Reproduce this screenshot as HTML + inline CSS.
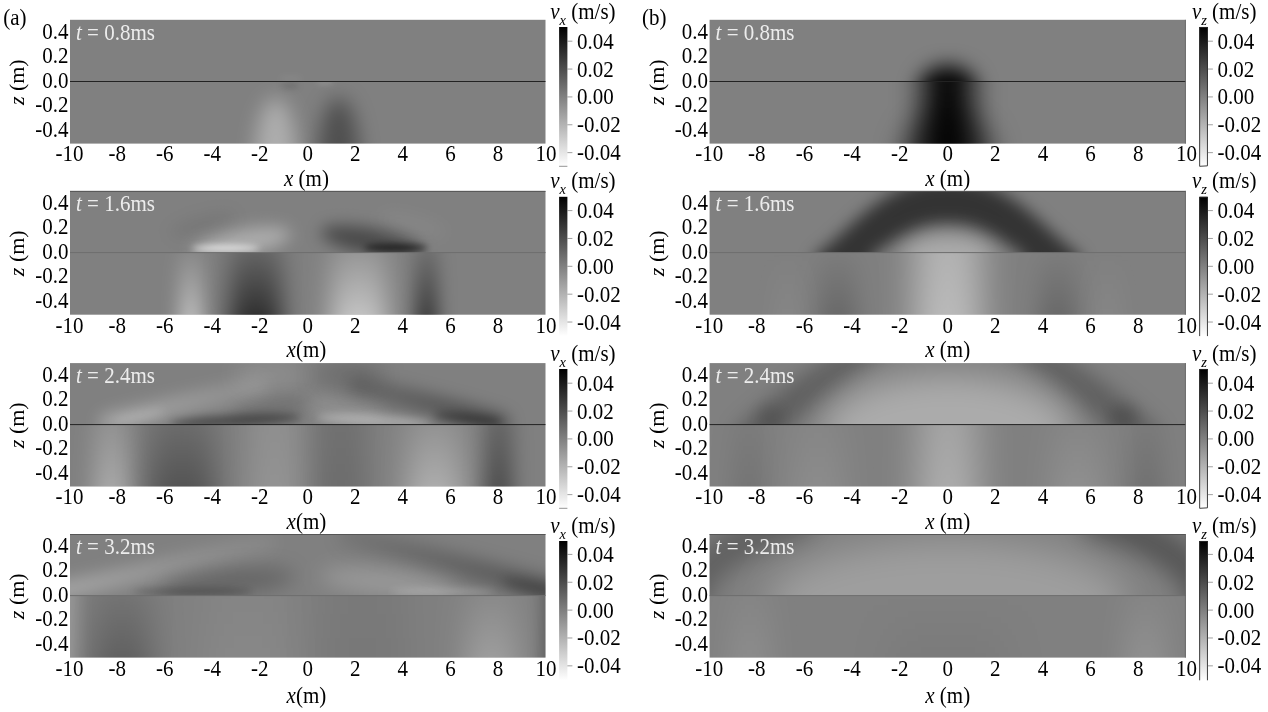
<!DOCTYPE html>
<html lang="en"><head><meta charset="utf-8"><title>Wave field snapshots</title>
<style>html,body{margin:0;padding:0;background:#fff}svg{display:block;will-change:transform}text{font-family:"Liberation Serif","Times New Roman",serif;font-size:21px;fill:#000}.i{font-style:italic}.w{fill:#ececec}.sub{font-size:14.5px;font-style:italic}</style>
</head><body>
<svg width="1268" height="712" viewBox="0 0 1268 712">
<defs>
<linearGradient id="cb" x1="0" y1="0" x2="0" y2="1"><stop offset="0" stop-color="#000"/><stop offset="0.5" stop-color="#808080"/><stop offset="1" stop-color="#fff"/></linearGradient>
<filter id="f10_1" filterUnits="userSpaceOnUse" x="0" y="0" width="1268" height="712"><feGaussianBlur stdDeviation="10 1"/></filter>
<filter id="f10_10" filterUnits="userSpaceOnUse" x="0" y="0" width="1268" height="712"><feGaussianBlur stdDeviation="10 10"/></filter>
<filter id="f11_1" filterUnits="userSpaceOnUse" x="0" y="0" width="1268" height="712"><feGaussianBlur stdDeviation="11 1"/></filter>
<filter id="f11_11" filterUnits="userSpaceOnUse" x="0" y="0" width="1268" height="712"><feGaussianBlur stdDeviation="11 11"/></filter>
<filter id="f12_1" filterUnits="userSpaceOnUse" x="0" y="0" width="1268" height="712"><feGaussianBlur stdDeviation="12 1"/></filter>
<filter id="f12_12" filterUnits="userSpaceOnUse" x="0" y="0" width="1268" height="712"><feGaussianBlur stdDeviation="12 12"/></filter>
<filter id="f13_1" filterUnits="userSpaceOnUse" x="0" y="0" width="1268" height="712"><feGaussianBlur stdDeviation="13 1"/></filter>
<filter id="f14_1" filterUnits="userSpaceOnUse" x="0" y="0" width="1268" height="712"><feGaussianBlur stdDeviation="14 1"/></filter>
<filter id="f14_14" filterUnits="userSpaceOnUse" x="0" y="0" width="1268" height="712"><feGaussianBlur stdDeviation="14 14"/></filter>
<filter id="f15_1" filterUnits="userSpaceOnUse" x="0" y="0" width="1268" height="712"><feGaussianBlur stdDeviation="15 1"/></filter>
<filter id="f16_1" filterUnits="userSpaceOnUse" x="0" y="0" width="1268" height="712"><feGaussianBlur stdDeviation="16 1"/></filter>
<filter id="f16_16" filterUnits="userSpaceOnUse" x="0" y="0" width="1268" height="712"><feGaussianBlur stdDeviation="16 16"/></filter>
<filter id="f17_1" filterUnits="userSpaceOnUse" x="0" y="0" width="1268" height="712"><feGaussianBlur stdDeviation="17 1"/></filter>
<filter id="f18_1" filterUnits="userSpaceOnUse" x="0" y="0" width="1268" height="712"><feGaussianBlur stdDeviation="18 1"/></filter>
<filter id="f18_18" filterUnits="userSpaceOnUse" x="0" y="0" width="1268" height="712"><feGaussianBlur stdDeviation="18 18"/></filter>
<filter id="f22_1" filterUnits="userSpaceOnUse" x="0" y="0" width="1268" height="712"><feGaussianBlur stdDeviation="22 1"/></filter>
<filter id="f2p5_2p5" filterUnits="userSpaceOnUse" x="0" y="0" width="1268" height="712"><feGaussianBlur stdDeviation="2.5 2.5"/></filter>
<filter id="f3_3" filterUnits="userSpaceOnUse" x="0" y="0" width="1268" height="712"><feGaussianBlur stdDeviation="3 3"/></filter>
<filter id="f3p5_3p5" filterUnits="userSpaceOnUse" x="0" y="0" width="1268" height="712"><feGaussianBlur stdDeviation="3.5 3.5"/></filter>
<filter id="f4_4" filterUnits="userSpaceOnUse" x="0" y="0" width="1268" height="712"><feGaussianBlur stdDeviation="4 4"/></filter>
<filter id="f4p5_4p5" filterUnits="userSpaceOnUse" x="0" y="0" width="1268" height="712"><feGaussianBlur stdDeviation="4.5 4.5"/></filter>
<filter id="f5_5" filterUnits="userSpaceOnUse" x="0" y="0" width="1268" height="712"><feGaussianBlur stdDeviation="5 5"/></filter>
<filter id="f6_6" filterUnits="userSpaceOnUse" x="0" y="0" width="1268" height="712"><feGaussianBlur stdDeviation="6 6"/></filter>
<filter id="f7_1" filterUnits="userSpaceOnUse" x="0" y="0" width="1268" height="712"><feGaussianBlur stdDeviation="7 1"/></filter>
<filter id="f7_7" filterUnits="userSpaceOnUse" x="0" y="0" width="1268" height="712"><feGaussianBlur stdDeviation="7 7"/></filter>
<filter id="f8_1" filterUnits="userSpaceOnUse" x="0" y="0" width="1268" height="712"><feGaussianBlur stdDeviation="8 1"/></filter>
<filter id="f8_8" filterUnits="userSpaceOnUse" x="0" y="0" width="1268" height="712"><feGaussianBlur stdDeviation="8 8"/></filter>
<filter id="f9_1" filterUnits="userSpaceOnUse" x="0" y="0" width="1268" height="712"><feGaussianBlur stdDeviation="9 1"/></filter>
<filter id="f9_9" filterUnits="userSpaceOnUse" x="0" y="0" width="1268" height="712"><feGaussianBlur stdDeviation="9 9"/></filter>
<linearGradient id="g1" gradientUnits="userSpaceOnUse" x1="0" y1="252.8" x2="0" y2="314.7"><stop offset="0" stop-color="#fff" stop-opacity="0.08"/><stop offset="1" stop-color="#fff" stop-opacity="0.46"/></linearGradient>
<linearGradient id="g2" gradientUnits="userSpaceOnUse" x1="0" y1="252.8" x2="0" y2="314.7"><stop offset="0" stop-color="#000" stop-opacity="0.22"/><stop offset="1" stop-color="#000" stop-opacity="0.62"/></linearGradient>
<linearGradient id="g3" gradientUnits="userSpaceOnUse" x1="0" y1="252.8" x2="0" y2="314.7"><stop offset="0" stop-color="#fff" stop-opacity="0.18"/><stop offset="1" stop-color="#fff" stop-opacity="0.52"/></linearGradient>
<linearGradient id="g4" gradientUnits="userSpaceOnUse" x1="0" y1="252.8" x2="0" y2="314.7"><stop offset="0" stop-color="#000" stop-opacity="0.16"/><stop offset="1" stop-color="#000" stop-opacity="0.55"/></linearGradient>
<linearGradient id="g5" gradientUnits="userSpaceOnUse" x1="117.75" y1="0" x2="257.75" y2="0"><stop offset="0" stop-color="#fff" stop-opacity="0.3"/><stop offset="1" stop-color="#fff" stop-opacity="0.12"/></linearGradient>
<linearGradient id="g6" gradientUnits="userSpaceOnUse" x1="492.75" y1="0" x2="357.75" y2="0"><stop offset="0" stop-color="#000" stop-opacity="0.4"/><stop offset="1" stop-color="#000" stop-opacity="0.18"/></linearGradient>
<linearGradient id="g7" gradientUnits="userSpaceOnUse" x1="0" y1="424.8" x2="0" y2="486.5"><stop offset="0" stop-color="#fff" stop-opacity="0.15"/><stop offset="1" stop-color="#fff" stop-opacity="0.32"/></linearGradient>
<linearGradient id="g8" gradientUnits="userSpaceOnUse" x1="0" y1="424.8" x2="0" y2="486.5"><stop offset="0" stop-color="#000" stop-opacity="0.16"/><stop offset="1" stop-color="#000" stop-opacity="0.34"/></linearGradient>
<linearGradient id="g9" gradientUnits="userSpaceOnUse" x1="0" y1="424.8" x2="0" y2="486.5"><stop offset="0" stop-color="#fff" stop-opacity="0.12"/><stop offset="1" stop-color="#fff" stop-opacity="0.15"/></linearGradient>
<linearGradient id="g10" gradientUnits="userSpaceOnUse" x1="0" y1="424.8" x2="0" y2="486.5"><stop offset="0" stop-color="#000" stop-opacity="0.12"/><stop offset="1" stop-color="#000" stop-opacity="0.15"/></linearGradient>
<linearGradient id="g11" gradientUnits="userSpaceOnUse" x1="0" y1="424.8" x2="0" y2="486.5"><stop offset="0" stop-color="#fff" stop-opacity="0.15"/><stop offset="1" stop-color="#fff" stop-opacity="0.36"/></linearGradient>
<linearGradient id="g12" gradientUnits="userSpaceOnUse" x1="0" y1="424.8" x2="0" y2="486.5"><stop offset="0" stop-color="#000" stop-opacity="0.22"/><stop offset="1" stop-color="#000" stop-opacity="0.4"/></linearGradient>
<linearGradient id="g13" gradientUnits="userSpaceOnUse" x1="67.75" y1="0" x2="267.75" y2="0"><stop offset="0" stop-color="#fff" stop-opacity="0.3"/><stop offset="1" stop-color="#fff" stop-opacity="0.06"/></linearGradient>
<linearGradient id="g14" gradientUnits="userSpaceOnUse" x1="547.75" y1="0" x2="347.75" y2="0"><stop offset="0" stop-color="#000" stop-opacity="0.38"/><stop offset="1" stop-color="#000" stop-opacity="0.1"/></linearGradient>
<linearGradient id="g15" gradientUnits="userSpaceOnUse" x1="0" y1="595.8" x2="0" y2="657.6"><stop offset="0" stop-color="#fff" stop-opacity="0.2"/><stop offset="1" stop-color="#fff" stop-opacity="0.2"/></linearGradient>
<linearGradient id="g16" gradientUnits="userSpaceOnUse" x1="0" y1="595.8" x2="0" y2="657.6"><stop offset="0" stop-color="#000" stop-opacity="0.1"/><stop offset="1" stop-color="#000" stop-opacity="0.25"/></linearGradient>
<linearGradient id="g17" gradientUnits="userSpaceOnUse" x1="0" y1="595.8" x2="0" y2="657.6"><stop offset="0" stop-color="#fff" stop-opacity="0.04"/><stop offset="1" stop-color="#fff" stop-opacity="0.06"/></linearGradient>
<linearGradient id="g18" gradientUnits="userSpaceOnUse" x1="0" y1="595.8" x2="0" y2="657.6"><stop offset="0" stop-color="#000" stop-opacity="0.05"/><stop offset="1" stop-color="#000" stop-opacity="0.06"/></linearGradient>
<linearGradient id="g19" gradientUnits="userSpaceOnUse" x1="0" y1="595.8" x2="0" y2="657.6"><stop offset="0" stop-color="#fff" stop-opacity="0.08"/><stop offset="1" stop-color="#fff" stop-opacity="0.24"/></linearGradient>
<linearGradient id="g20" gradientUnits="userSpaceOnUse" x1="0" y1="595.8" x2="0" y2="657.6"><stop offset="0" stop-color="#000" stop-opacity="0.24"/><stop offset="1" stop-color="#000" stop-opacity="0.28"/></linearGradient>
<linearGradient id="g21" gradientUnits="userSpaceOnUse" x1="0" y1="81.7" x2="0" y2="143.6"><stop offset="0" stop-color="#000" stop-opacity="0.97"/><stop offset="1" stop-color="#000" stop-opacity="0.99"/></linearGradient>
<linearGradient id="g22" gradientUnits="userSpaceOnUse" x1="0" y1="252.8" x2="0" y2="314.7"><stop offset="0" stop-color="#fff" stop-opacity="0.4"/><stop offset="1" stop-color="#fff" stop-opacity="0.46"/></linearGradient>
<linearGradient id="g23" gradientUnits="userSpaceOnUse" x1="0" y1="252.8" x2="0" y2="314.7"><stop offset="0" stop-color="#000" stop-opacity="0.03"/><stop offset="1" stop-color="#000" stop-opacity="0.2"/></linearGradient>
<linearGradient id="g24" gradientUnits="userSpaceOnUse" x1="0" y1="252.8" x2="0" y2="314.7"><stop offset="0" stop-color="#000" stop-opacity="0.03"/><stop offset="1" stop-color="#000" stop-opacity="0.2"/></linearGradient>
<linearGradient id="g25" gradientUnits="userSpaceOnUse" x1="0" y1="252.8" x2="0" y2="314.7"><stop offset="0" stop-color="#fff" stop-opacity="0"/><stop offset="1" stop-color="#fff" stop-opacity="0.05"/></linearGradient>
<linearGradient id="g26" gradientUnits="userSpaceOnUse" x1="0" y1="252.8" x2="0" y2="314.7"><stop offset="0" stop-color="#fff" stop-opacity="0"/><stop offset="1" stop-color="#fff" stop-opacity="0.05"/></linearGradient>
<linearGradient id="g27" gradientUnits="userSpaceOnUse" x1="0" y1="424.8" x2="0" y2="486.5"><stop offset="0" stop-color="#fff" stop-opacity="0.3"/><stop offset="1" stop-color="#fff" stop-opacity="0.36"/></linearGradient>
<linearGradient id="g28" gradientUnits="userSpaceOnUse" x1="0" y1="424.8" x2="0" y2="486.5"><stop offset="0" stop-color="#000" stop-opacity="0.04"/><stop offset="1" stop-color="#000" stop-opacity="0.1"/></linearGradient>
<linearGradient id="g29" gradientUnits="userSpaceOnUse" x1="0" y1="424.8" x2="0" y2="486.5"><stop offset="0" stop-color="#000" stop-opacity="0.05"/><stop offset="1" stop-color="#000" stop-opacity="0.13"/></linearGradient>
<linearGradient id="g30" gradientUnits="userSpaceOnUse" x1="0" y1="424.8" x2="0" y2="486.5"><stop offset="0" stop-color="#fff" stop-opacity="0.05"/><stop offset="1" stop-color="#fff" stop-opacity="0.1"/></linearGradient>
<linearGradient id="g31" gradientUnits="userSpaceOnUse" x1="0" y1="424.8" x2="0" y2="486.5"><stop offset="0" stop-color="#fff" stop-opacity="0.05"/><stop offset="1" stop-color="#fff" stop-opacity="0.13"/></linearGradient>
<linearGradient id="g32" gradientUnits="userSpaceOnUse" x1="0" y1="595.8" x2="0" y2="657.6"><stop offset="0" stop-color="#fff" stop-opacity="0.04"/><stop offset="1" stop-color="#fff" stop-opacity="0.1"/></linearGradient>
<linearGradient id="g33" gradientUnits="userSpaceOnUse" x1="0" y1="595.8" x2="0" y2="657.6"><stop offset="0" stop-color="#fff" stop-opacity="0.04"/><stop offset="1" stop-color="#fff" stop-opacity="0.13"/></linearGradient>
<linearGradient id="g34" gradientUnits="userSpaceOnUse" x1="0" y1="595.8" x2="0" y2="657.6"><stop offset="0" stop-color="#000" stop-opacity="0"/><stop offset="1" stop-color="#000" stop-opacity="0.04"/></linearGradient>
<clipPath id="c00a"><rect x="70" y="19.8" width="475.5" height="123.8"/></clipPath>
<clipPath id="c00u"><rect x="70" y="19.8" width="475.5" height="61.9"/></clipPath>
<clipPath id="c00l"><rect x="70" y="81.7" width="475.5" height="61.9"/></clipPath>
<clipPath id="c01a"><rect x="70" y="190.9" width="475.5" height="123.8"/></clipPath>
<clipPath id="c01u"><rect x="70" y="190.9" width="475.5" height="61.9"/></clipPath>
<clipPath id="c01l"><rect x="70" y="252.8" width="475.5" height="61.9"/></clipPath>
<clipPath id="c02a"><rect x="70" y="363.1" width="475.5" height="123.4"/></clipPath>
<clipPath id="c02u"><rect x="70" y="363.1" width="475.5" height="61.7"/></clipPath>
<clipPath id="c02l"><rect x="70" y="424.8" width="475.5" height="61.7"/></clipPath>
<clipPath id="c03a"><rect x="70" y="534" width="475.5" height="123.6"/></clipPath>
<clipPath id="c03u"><rect x="70" y="534" width="475.5" height="61.8"/></clipPath>
<clipPath id="c03l"><rect x="70" y="595.8" width="475.5" height="61.8"/></clipPath>
<clipPath id="c10a"><rect x="709.6" y="19.8" width="476.2" height="123.8"/></clipPath>
<clipPath id="c10u"><rect x="709.6" y="19.8" width="476.2" height="61.9"/></clipPath>
<clipPath id="c10l"><rect x="709.6" y="81.7" width="476.2" height="61.9"/></clipPath>
<clipPath id="c11a"><rect x="709.6" y="190.9" width="476.2" height="123.8"/></clipPath>
<clipPath id="c11u"><rect x="709.6" y="190.9" width="476.2" height="61.9"/></clipPath>
<clipPath id="c11l"><rect x="709.6" y="252.8" width="476.2" height="61.9"/></clipPath>
<clipPath id="c12a"><rect x="709.6" y="363.1" width="476.2" height="123.4"/></clipPath>
<clipPath id="c12u"><rect x="709.6" y="363.1" width="476.2" height="61.7"/></clipPath>
<clipPath id="c12l"><rect x="709.6" y="424.8" width="476.2" height="61.7"/></clipPath>
<clipPath id="c13a"><rect x="709.6" y="534" width="476.2" height="123.6"/></clipPath>
<clipPath id="c13u"><rect x="709.6" y="534" width="476.2" height="61.8"/></clipPath>
<clipPath id="c13l"><rect x="709.6" y="595.8" width="476.2" height="61.8"/></clipPath>
</defs>
<rect width="1268" height="712" fill="#fff"/>
<!-- panel a row 1 -->
<rect x="70" y="19.8" width="475.5" height="123.8" fill="#808080"/>
<g clip-path="url(#c00l)">
<ellipse cx="275.75" cy="161.7" rx="21" ry="64" fill="#fff" fill-opacity="0.36" filter="url(#f10_10)"/>
<ellipse cx="338.75" cy="161.7" rx="21" ry="64" fill="#000" fill-opacity="0.38" filter="url(#f10_10)"/>
<ellipse cx="289.75" cy="85.7" rx="9" ry="3" fill="#000" fill-opacity="0.14" filter="url(#f3_3)"/>
<ellipse cx="324.75" cy="82.7" rx="9" ry="2" fill="#fff" fill-opacity="0.14" filter="url(#f2p5_2p5)"/>
</g>
<g clip-path="url(#c00u)">
<ellipse cx="290.75" cy="78.7" rx="12" ry="3" fill="#fff" fill-opacity="0.06" filter="url(#f3_3)"/>
</g>
<path d="M70 81.5H545.5" stroke="#222" stroke-width="1" fill="none"/>
<text transform="translate(76,40) scale(1,1.065)" class="w" xml:space="preserve"><tspan class="i">t</tspan> = 0.8ms</text>
<text transform="translate(68.5,38.7) scale(1,1.065)" text-anchor="end" xml:space="preserve">0.4</text>
<text transform="translate(68.5,63.2) scale(1,1.065)" text-anchor="end" xml:space="preserve">0.2</text>
<text transform="translate(68.5,87.7) scale(1,1.065)" text-anchor="end" xml:space="preserve">0.0</text>
<text transform="translate(68.5,112.2) scale(1,1.065)" text-anchor="end" xml:space="preserve">-0.2</text>
<text transform="translate(68.5,136.7) scale(1,1.065)" text-anchor="end" xml:space="preserve">-0.4</text>
<text transform="translate(69.6,161) scale(1,1.065)" text-anchor="middle" xml:space="preserve">-10</text>
<text transform="translate(117.15,161) scale(1,1.065)" text-anchor="middle" xml:space="preserve">-8</text>
<text transform="translate(164.7,161) scale(1,1.065)" text-anchor="middle" xml:space="preserve">-6</text>
<text transform="translate(212.25,161) scale(1,1.065)" text-anchor="middle" xml:space="preserve">-4</text>
<text transform="translate(259.8,161) scale(1,1.065)" text-anchor="middle" xml:space="preserve">-2</text>
<text transform="translate(307.75,161) scale(1,1.065)" text-anchor="middle" xml:space="preserve">0</text>
<text transform="translate(355.3,161) scale(1,1.065)" text-anchor="middle" xml:space="preserve">2</text>
<text transform="translate(402.85,161) scale(1,1.065)" text-anchor="middle" xml:space="preserve">4</text>
<text transform="translate(450.4,161) scale(1,1.065)" text-anchor="middle" xml:space="preserve">6</text>
<text transform="translate(497.95,161) scale(1,1.065)" text-anchor="middle" xml:space="preserve">8</text>
<text transform="translate(546.1,161) scale(1,1.065)" text-anchor="middle" xml:space="preserve">10</text>
<text transform="translate(306.45,185.5) scale(1,1.065)" text-anchor="middle" xml:space="preserve"><tspan class="i">x</tspan> (m)</text>
<text transform="translate(24,82.2) rotate(-90) scale(1.045,1)" text-anchor="middle" xml:space="preserve"><tspan class="i">z</tspan> (m)</text>
<rect x="559.1" y="27" width="8.3" height="139.3" fill="url(#cb)"/>
<path d="M559.1 166.3H567.4" stroke="#666" stroke-width="0.7" fill="none"/>
<path d="M567.4 41.2h5" stroke="#777" stroke-width="0.7" fill="none"/>
<text transform="translate(577,48.7) scale(1,1.065)" xml:space="preserve">0.04</text>
<path d="M567.4 69.06h5" stroke="#777" stroke-width="0.7" fill="none"/>
<text transform="translate(577,76.56) scale(1,1.065)" xml:space="preserve">0.02</text>
<path d="M567.4 96.92h5" stroke="#777" stroke-width="0.7" fill="none"/>
<text transform="translate(577,104.42) scale(1,1.065)" xml:space="preserve">0.00</text>
<path d="M567.4 124.78h5" stroke="#777" stroke-width="0.7" fill="none"/>
<text transform="translate(577,132.28) scale(1,1.065)" xml:space="preserve">-0.02</text>
<path d="M567.4 152.64h5" stroke="#777" stroke-width="0.7" fill="none"/>
<text transform="translate(577,160.14) scale(1,1.065)" xml:space="preserve">-0.04</text>
<text transform="translate(550.2,18.6) scale(1,1.065)" xml:space="preserve"><tspan class="i">v</tspan><tspan class="sub" dy="6">x</tspan><tspan dy="-6"> (m/s)</tspan></text>
<!-- panel a row 2 -->
<rect x="70" y="190.9" width="475.5" height="123.8" fill="#808080"/>
<g clip-path="url(#c01l)">
<rect x="178.75" y="240.8" width="24" height="87" fill="url(#g1)" filter="url(#f9_1)"/>
<rect x="229.75" y="240.8" width="52" height="87" fill="url(#g2)" filter="url(#f12_1)"/>
<rect x="330.75" y="240.8" width="56" height="87" fill="url(#g3)" filter="url(#f13_1)"/>
<rect x="415.75" y="240.8" width="22" height="87" fill="url(#g4)" filter="url(#f9_1)"/>
</g>
<g clip-path="url(#c01u)">
<ellipse cx="241.75" cy="242.8" rx="50" ry="13" fill="#fff" fill-opacity="0.35" filter="url(#f8_8)" transform="rotate(-11 241.75 242.8)"/>
<ellipse cx="225.75" cy="248.3" rx="34" ry="3" fill="#fff" fill-opacity="0.68" filter="url(#f3_3)"/>
<ellipse cx="371.75" cy="241.8" rx="52" ry="13" fill="#000" fill-opacity="0.43" filter="url(#f8_8)" transform="rotate(11 371.75 241.8)"/>
<ellipse cx="395.75" cy="247.8" rx="32" ry="3.5" fill="#000" fill-opacity="0.6" filter="url(#f3_3)"/>
<ellipse cx="202.75" cy="224.8" rx="35" ry="9" fill="#000" fill-opacity="0.07" filter="url(#f8_8)" transform="rotate(-15 202.75 224.8)"/>
<ellipse cx="412.75" cy="224.8" rx="35" ry="9" fill="#fff" fill-opacity="0.05" filter="url(#f8_8)" transform="rotate(15 412.75 224.8)"/>
</g>
<path d="M70 252.6H545.5" stroke="#6e6e6e" stroke-width="1" fill="none"/>
<rect x="70" y="190.9" width="475.5" height="1" fill="#555"/>
<text transform="translate(76,211.1) scale(1,1.065)" class="w" xml:space="preserve"><tspan class="i">t</tspan> = 1.6ms</text>
<text transform="translate(68.5,209.8) scale(1,1.065)" text-anchor="end" xml:space="preserve">0.4</text>
<text transform="translate(68.5,234.3) scale(1,1.065)" text-anchor="end" xml:space="preserve">0.2</text>
<text transform="translate(68.5,258.8) scale(1,1.065)" text-anchor="end" xml:space="preserve">0.0</text>
<text transform="translate(68.5,283.3) scale(1,1.065)" text-anchor="end" xml:space="preserve">-0.2</text>
<text transform="translate(68.5,307.8) scale(1,1.065)" text-anchor="end" xml:space="preserve">-0.4</text>
<text transform="translate(69.6,332.9) scale(1,1.065)" text-anchor="middle" xml:space="preserve">-10</text>
<text transform="translate(117.15,332.9) scale(1,1.065)" text-anchor="middle" xml:space="preserve">-8</text>
<text transform="translate(164.7,332.9) scale(1,1.065)" text-anchor="middle" xml:space="preserve">-6</text>
<text transform="translate(212.25,332.9) scale(1,1.065)" text-anchor="middle" xml:space="preserve">-4</text>
<text transform="translate(259.8,332.9) scale(1,1.065)" text-anchor="middle" xml:space="preserve">-2</text>
<text transform="translate(307.75,332.9) scale(1,1.065)" text-anchor="middle" xml:space="preserve">0</text>
<text transform="translate(355.3,332.9) scale(1,1.065)" text-anchor="middle" xml:space="preserve">2</text>
<text transform="translate(402.85,332.9) scale(1,1.065)" text-anchor="middle" xml:space="preserve">4</text>
<text transform="translate(450.4,332.9) scale(1,1.065)" text-anchor="middle" xml:space="preserve">6</text>
<text transform="translate(497.95,332.9) scale(1,1.065)" text-anchor="middle" xml:space="preserve">8</text>
<text transform="translate(546.1,332.9) scale(1,1.065)" text-anchor="middle" xml:space="preserve">10</text>
<text transform="translate(306.45,356.9) scale(1,1.065)" text-anchor="middle" xml:space="preserve"><tspan class="i">x</tspan>(m)</text>
<text transform="translate(24,253.3) rotate(-90) scale(1.045,1)" text-anchor="middle" xml:space="preserve"><tspan class="i">z</tspan> (m)</text>
<rect x="559.1" y="196.8" width="8.3" height="139.3" fill="url(#cb)"/>
<path d="M567.4 210.6h5" stroke="#777" stroke-width="0.7" fill="none"/>
<text transform="translate(577,218.1) scale(1,1.065)" xml:space="preserve">0.04</text>
<path d="M567.4 238.46h5" stroke="#777" stroke-width="0.7" fill="none"/>
<text transform="translate(577,245.96) scale(1,1.065)" xml:space="preserve">0.02</text>
<path d="M567.4 266.32h5" stroke="#777" stroke-width="0.7" fill="none"/>
<text transform="translate(577,273.82) scale(1,1.065)" xml:space="preserve">0.00</text>
<path d="M567.4 294.18h5" stroke="#777" stroke-width="0.7" fill="none"/>
<text transform="translate(577,301.68) scale(1,1.065)" xml:space="preserve">-0.02</text>
<path d="M567.4 322.04h5" stroke="#777" stroke-width="0.7" fill="none"/>
<text transform="translate(577,329.54) scale(1,1.065)" xml:space="preserve">-0.04</text>
<text transform="translate(550.2,188) scale(1,1.065)" xml:space="preserve"><tspan class="i">v</tspan><tspan class="sub" dy="6">x</tspan><tspan dy="-6"> (m/s)</tspan></text>
<!-- panel a row 3 -->
<rect x="70" y="363.1" width="475.5" height="123.4" fill="#808080"/>
<g clip-path="url(#c02l)">
<rect x="93.75" y="412.8" width="36" height="87" fill="url(#g7)" filter="url(#f11_1)"/>
<rect x="147.75" y="412.8" width="68" height="87" fill="url(#g8)" filter="url(#f15_1)"/>
<rect x="248.75" y="412.8" width="52" height="87" fill="url(#g9)" filter="url(#f13_1)"/>
<rect x="314.75" y="412.8" width="52" height="87" fill="url(#g10)" filter="url(#f13_1)"/>
<rect x="406.75" y="412.8" width="56" height="87" fill="url(#g11)" filter="url(#f15_1)"/>
<rect x="484.75" y="412.8" width="28" height="87" fill="url(#g12)" filter="url(#f10_1)"/>
</g>
<g clip-path="url(#c02u)">
<path d="M 107.75 422.8 Q 187.75 401.8 257.75 386.8" fill="none" stroke="url(#g5)" stroke-width="18" stroke-linecap="round" filter="url(#f8_8)"/>
<ellipse cx="269.75" cy="374.8" rx="36" ry="16" fill="#fff" fill-opacity="0.1" filter="url(#f11_11)"/>
<ellipse cx="139.75" cy="416.8" rx="26" ry="5" fill="#fff" fill-opacity="0.16" filter="url(#f5_5)" transform="rotate(-12 139.75 416.8)"/>
<ellipse cx="235.75" cy="420.8" rx="66" ry="6" fill="#000" fill-opacity="0.4" filter="url(#f4p5_4p5)" transform="rotate(-3 235.75 420.8)"/>
<ellipse cx="271.75" cy="408.8" rx="40" ry="10" fill="#000" fill-opacity="0.12" filter="url(#f8_8)" transform="rotate(-10 271.75 408.8)"/>
<ellipse cx="373.75" cy="420.8" rx="58" ry="6" fill="#fff" fill-opacity="0.32" filter="url(#f4p5_4p5)" transform="rotate(3 373.75 420.8)"/>
<ellipse cx="343.75" cy="408.8" rx="40" ry="10" fill="#fff" fill-opacity="0.12" filter="url(#f8_8)" transform="rotate(10 343.75 408.8)"/>
<path d="M 357.75 386.8 Q 427.75 401.8 499.75 423.8" fill="none" stroke="url(#g6)" stroke-width="20" stroke-linecap="round" filter="url(#f8_8)"/>
<ellipse cx="349.75" cy="374.8" rx="36" ry="16" fill="#000" fill-opacity="0.14" filter="url(#f11_11)"/>
<ellipse cx="467.75" cy="418.8" rx="34" ry="5" fill="#000" fill-opacity="0.36" filter="url(#f4_4)" transform="rotate(6 467.75 418.8)"/>
</g>
<path d="M70 424.6H545.5" stroke="#222" stroke-width="1" fill="none"/>
<text transform="translate(76,383.3) scale(1,1.065)" class="w" xml:space="preserve"><tspan class="i">t</tspan> = 2.4ms</text>
<text transform="translate(68.5,381.8) scale(1,1.065)" text-anchor="end" xml:space="preserve">0.4</text>
<text transform="translate(68.5,406.3) scale(1,1.065)" text-anchor="end" xml:space="preserve">0.2</text>
<text transform="translate(68.5,430.8) scale(1,1.065)" text-anchor="end" xml:space="preserve">0.0</text>
<text transform="translate(68.5,455.3) scale(1,1.065)" text-anchor="end" xml:space="preserve">-0.2</text>
<text transform="translate(68.5,479.8) scale(1,1.065)" text-anchor="end" xml:space="preserve">-0.4</text>
<text transform="translate(69.6,504.1) scale(1,1.065)" text-anchor="middle" xml:space="preserve">-10</text>
<text transform="translate(117.15,504.1) scale(1,1.065)" text-anchor="middle" xml:space="preserve">-8</text>
<text transform="translate(164.7,504.1) scale(1,1.065)" text-anchor="middle" xml:space="preserve">-6</text>
<text transform="translate(212.25,504.1) scale(1,1.065)" text-anchor="middle" xml:space="preserve">-4</text>
<text transform="translate(259.8,504.1) scale(1,1.065)" text-anchor="middle" xml:space="preserve">-2</text>
<text transform="translate(307.75,504.1) scale(1,1.065)" text-anchor="middle" xml:space="preserve">0</text>
<text transform="translate(355.3,504.1) scale(1,1.065)" text-anchor="middle" xml:space="preserve">2</text>
<text transform="translate(402.85,504.1) scale(1,1.065)" text-anchor="middle" xml:space="preserve">4</text>
<text transform="translate(450.4,504.1) scale(1,1.065)" text-anchor="middle" xml:space="preserve">6</text>
<text transform="translate(497.95,504.1) scale(1,1.065)" text-anchor="middle" xml:space="preserve">8</text>
<text transform="translate(546.1,504.1) scale(1,1.065)" text-anchor="middle" xml:space="preserve">10</text>
<text transform="translate(306.45,528.5) scale(1,1.065)" text-anchor="middle" xml:space="preserve"><tspan class="i">x</tspan>(m)</text>
<text transform="translate(24,425.3) rotate(-90) scale(1.045,1)" text-anchor="middle" xml:space="preserve"><tspan class="i">z</tspan> (m)</text>
<rect x="559.1" y="369" width="8.3" height="139.3" fill="url(#cb)"/>
<path d="M559.1 508.3H567.4" stroke="#666" stroke-width="0.7" fill="none"/>
<path d="M567.4 383.2h5" stroke="#777" stroke-width="0.7" fill="none"/>
<text transform="translate(577,390.7) scale(1,1.065)" xml:space="preserve">0.04</text>
<path d="M567.4 411.06h5" stroke="#777" stroke-width="0.7" fill="none"/>
<text transform="translate(577,418.56) scale(1,1.065)" xml:space="preserve">0.02</text>
<path d="M567.4 438.92h5" stroke="#777" stroke-width="0.7" fill="none"/>
<text transform="translate(577,446.42) scale(1,1.065)" xml:space="preserve">0.00</text>
<path d="M567.4 466.78h5" stroke="#777" stroke-width="0.7" fill="none"/>
<text transform="translate(577,474.28) scale(1,1.065)" xml:space="preserve">-0.02</text>
<path d="M567.4 494.64h5" stroke="#777" stroke-width="0.7" fill="none"/>
<text transform="translate(577,502.14) scale(1,1.065)" xml:space="preserve">-0.04</text>
<text transform="translate(550.2,360.9) scale(1,1.065)" xml:space="preserve"><tspan class="i">v</tspan><tspan class="sub" dy="6">x</tspan><tspan dy="-6"> (m/s)</tspan></text>
<!-- panel a row 4 -->
<rect x="70" y="534" width="475.5" height="123.6" fill="#808080"/>
<g clip-path="url(#c03l)">
<rect x="53.75" y="583.8" width="24" height="87" fill="url(#g15)" filter="url(#f8_1)"/>
<rect x="91.75" y="583.8" width="60" height="87" fill="url(#g16)" filter="url(#f16_1)"/>
<rect x="202.75" y="583.8" width="90" height="87" fill="url(#g17)" filter="url(#f18_1)"/>
<rect x="317.75" y="583.8" width="90" height="87" fill="url(#g18)" filter="url(#f18_1)"/>
<rect x="465.75" y="583.8" width="52" height="87" fill="url(#g19)" filter="url(#f15_1)"/>
<rect x="541.75" y="583.8" width="16" height="87" fill="url(#g20)" filter="url(#f7_1)"/>
</g>
<g clip-path="url(#c03u)">
<path d="M 52.75 592.8 Q 157.75 569.8 267.75 542.8" fill="none" stroke="url(#g13)" stroke-width="18" stroke-linecap="round" filter="url(#f8_8)"/>
<ellipse cx="227.75" cy="582.8" rx="68" ry="13" fill="#000" fill-opacity="0.22" filter="url(#f10_10)" transform="rotate(-6 227.75 582.8)"/>
<ellipse cx="192.75" cy="591.8" rx="60" ry="4" fill="#000" fill-opacity="0.22" filter="url(#f3p5_3p5)"/>
<ellipse cx="387.75" cy="582.8" rx="68" ry="13" fill="#fff" fill-opacity="0.2" filter="url(#f10_10)" transform="rotate(6 387.75 582.8)"/>
<ellipse cx="442.75" cy="591.8" rx="52" ry="3.5" fill="#fff" fill-opacity="0.2" filter="url(#f3p5_3p5)"/>
<path d="M 347.75 535.8 Q 457.75 564.8 559.75 592.8" fill="none" stroke="url(#g14)" stroke-width="20" stroke-linecap="round" filter="url(#f9_9)"/>
<ellipse cx="532.75" cy="587.8" rx="32" ry="6" fill="#000" fill-opacity="0.25" filter="url(#f6_6)" transform="rotate(12 532.75 587.8)"/>
</g>
<path d="M70 595.6H545.5" stroke="#6e6e6e" stroke-width="1" fill="none"/>
<rect x="70" y="534" width="475.5" height="1" fill="#555"/>
<text transform="translate(76,554.2) scale(1,1.065)" class="w" xml:space="preserve"><tspan class="i">t</tspan> = 3.2ms</text>
<text transform="translate(68.5,552.8) scale(1,1.065)" text-anchor="end" xml:space="preserve">0.4</text>
<text transform="translate(68.5,577.3) scale(1,1.065)" text-anchor="end" xml:space="preserve">0.2</text>
<text transform="translate(68.5,601.8) scale(1,1.065)" text-anchor="end" xml:space="preserve">0.0</text>
<text transform="translate(68.5,626.3) scale(1,1.065)" text-anchor="end" xml:space="preserve">-0.2</text>
<text transform="translate(68.5,650.8) scale(1,1.065)" text-anchor="end" xml:space="preserve">-0.4</text>
<text transform="translate(69.6,676) scale(1,1.065)" text-anchor="middle" xml:space="preserve">-10</text>
<text transform="translate(117.15,676) scale(1,1.065)" text-anchor="middle" xml:space="preserve">-8</text>
<text transform="translate(164.7,676) scale(1,1.065)" text-anchor="middle" xml:space="preserve">-6</text>
<text transform="translate(212.25,676) scale(1,1.065)" text-anchor="middle" xml:space="preserve">-4</text>
<text transform="translate(259.8,676) scale(1,1.065)" text-anchor="middle" xml:space="preserve">-2</text>
<text transform="translate(307.75,676) scale(1,1.065)" text-anchor="middle" xml:space="preserve">0</text>
<text transform="translate(355.3,676) scale(1,1.065)" text-anchor="middle" xml:space="preserve">2</text>
<text transform="translate(402.85,676) scale(1,1.065)" text-anchor="middle" xml:space="preserve">4</text>
<text transform="translate(450.4,676) scale(1,1.065)" text-anchor="middle" xml:space="preserve">6</text>
<text transform="translate(497.95,676) scale(1,1.065)" text-anchor="middle" xml:space="preserve">8</text>
<text transform="translate(546.1,676) scale(1,1.065)" text-anchor="middle" xml:space="preserve">10</text>
<text transform="translate(306.45,702.8) scale(1,1.065)" text-anchor="middle" xml:space="preserve"><tspan class="i">x</tspan>(m)</text>
<text transform="translate(24,596.3) rotate(-90) scale(1.045,1)" text-anchor="middle" xml:space="preserve"><tspan class="i">z</tspan> (m)</text>
<rect x="559.1" y="541" width="8.3" height="139.3" fill="url(#cb)"/>
<path d="M567.4 554.4h5" stroke="#777" stroke-width="0.7" fill="none"/>
<text transform="translate(577,561.9) scale(1,1.065)" xml:space="preserve">0.04</text>
<path d="M567.4 582.26h5" stroke="#777" stroke-width="0.7" fill="none"/>
<text transform="translate(577,589.76) scale(1,1.065)" xml:space="preserve">0.02</text>
<path d="M567.4 610.12h5" stroke="#777" stroke-width="0.7" fill="none"/>
<text transform="translate(577,617.62) scale(1,1.065)" xml:space="preserve">0.00</text>
<path d="M567.4 637.98h5" stroke="#777" stroke-width="0.7" fill="none"/>
<text transform="translate(577,645.48) scale(1,1.065)" xml:space="preserve">-0.02</text>
<path d="M567.4 665.84h5" stroke="#777" stroke-width="0.7" fill="none"/>
<text transform="translate(577,673.34) scale(1,1.065)" xml:space="preserve">-0.04</text>
<text transform="translate(550.2,532.5) scale(1,1.065)" xml:space="preserve"><tspan class="i">v</tspan><tspan class="sub" dy="6">x</tspan><tspan dy="-6"> (m/s)</tspan></text>
<!-- panel b row 1 -->
<rect x="709.6" y="19.8" width="476.2" height="123.8" fill="#808080"/>
<g clip-path="url(#c10l)">
<rect x="923.7" y="69.7" width="48" height="87" fill="url(#g21)" filter="url(#f15_1)"/>
<ellipse cx="947.7" cy="156.7" rx="46" ry="45" fill="#000" fill-opacity="0.5" filter="url(#f14_14)"/>
</g>
<g clip-path="url(#c10u)">
<ellipse cx="947.7" cy="91.7" rx="30" ry="26" fill="#000" fill-opacity="0.97" filter="url(#f10_10)"/>
</g>
<path d="M709.6 81.5H1185.8" stroke="#222" stroke-width="1" fill="none"/>
<rect x="1184.9" y="19.8" width="0.9" height="123.8" fill="#666"/>
<text transform="translate(715.6,40) scale(1,1.065)" class="w" xml:space="preserve"><tspan class="i">t</tspan> = 0.8ms</text>
<text transform="translate(708.1,38.7) scale(1,1.065)" text-anchor="end" xml:space="preserve">0.4</text>
<text transform="translate(708.1,63.2) scale(1,1.065)" text-anchor="end" xml:space="preserve">0.2</text>
<text transform="translate(708.1,87.7) scale(1,1.065)" text-anchor="end" xml:space="preserve">0.0</text>
<text transform="translate(708.1,112.2) scale(1,1.065)" text-anchor="end" xml:space="preserve">-0.2</text>
<text transform="translate(708.1,136.7) scale(1,1.065)" text-anchor="end" xml:space="preserve">-0.4</text>
<text transform="translate(709.2,161) scale(1,1.065)" text-anchor="middle" xml:space="preserve">-10</text>
<text transform="translate(756.82,161) scale(1,1.065)" text-anchor="middle" xml:space="preserve">-8</text>
<text transform="translate(804.44,161) scale(1,1.065)" text-anchor="middle" xml:space="preserve">-6</text>
<text transform="translate(852.06,161) scale(1,1.065)" text-anchor="middle" xml:space="preserve">-4</text>
<text transform="translate(899.68,161) scale(1,1.065)" text-anchor="middle" xml:space="preserve">-2</text>
<text transform="translate(947.7,161) scale(1,1.065)" text-anchor="middle" xml:space="preserve">0</text>
<text transform="translate(995.32,161) scale(1,1.065)" text-anchor="middle" xml:space="preserve">2</text>
<text transform="translate(1042.94,161) scale(1,1.065)" text-anchor="middle" xml:space="preserve">4</text>
<text transform="translate(1090.56,161) scale(1,1.065)" text-anchor="middle" xml:space="preserve">6</text>
<text transform="translate(1138.18,161) scale(1,1.065)" text-anchor="middle" xml:space="preserve">8</text>
<text transform="translate(1186.4,161) scale(1,1.065)" text-anchor="middle" xml:space="preserve">10</text>
<text transform="translate(947.7,185.5) scale(1,1.065)" text-anchor="middle" xml:space="preserve"><tspan class="i">x</tspan> (m)</text>
<text transform="translate(663.6,82.2) rotate(-90) scale(1.045,1)" text-anchor="middle" xml:space="preserve"><tspan class="i">z</tspan> (m)</text>
<rect x="1199.2" y="27" width="8.7" height="139.3" fill="url(#cb)"/>
<path d="M1199.65 166.3V27.45H1207.45V165.85Z" fill="none" stroke="#2a2a2a" stroke-width="0.9"/>
<path d="M1207.9 41.2h5" stroke="#777" stroke-width="0.7" fill="none"/>
<text transform="translate(1217.5,48.7) scale(1,1.065)" xml:space="preserve">0.04</text>
<path d="M1207.9 69.06h5" stroke="#777" stroke-width="0.7" fill="none"/>
<text transform="translate(1217.5,76.56) scale(1,1.065)" xml:space="preserve">0.02</text>
<path d="M1207.9 96.92h5" stroke="#777" stroke-width="0.7" fill="none"/>
<text transform="translate(1217.5,104.42) scale(1,1.065)" xml:space="preserve">0.00</text>
<path d="M1207.9 124.78h5" stroke="#777" stroke-width="0.7" fill="none"/>
<text transform="translate(1217.5,132.28) scale(1,1.065)" xml:space="preserve">-0.02</text>
<path d="M1207.9 152.64h5" stroke="#777" stroke-width="0.7" fill="none"/>
<text transform="translate(1217.5,160.14) scale(1,1.065)" xml:space="preserve">-0.04</text>
<text transform="translate(1191.9,18.6) scale(1,1.065)" xml:space="preserve"><tspan class="i">v</tspan><tspan class="sub" dy="6">z</tspan><tspan dy="-6"> (m/s)</tspan></text>
<!-- panel b row 2 -->
<rect x="709.6" y="190.9" width="476.2" height="123.8" fill="#808080"/>
<g clip-path="url(#c11l)">
<rect x="913.7" y="240.8" width="68" height="87" fill="url(#g22)" filter="url(#f17_1)"/>
<rect x="819.7" y="240.8" width="36" height="87" fill="url(#g23)" filter="url(#f13_1)"/>
<rect x="1039.7" y="240.8" width="36" height="87" fill="url(#g24)" filter="url(#f13_1)"/>
<rect x="773.7" y="240.8" width="28" height="87" fill="url(#g25)" filter="url(#f10_1)"/>
<rect x="1093.7" y="240.8" width="28" height="87" fill="url(#g26)" filter="url(#f10_1)"/>
</g>
<g clip-path="url(#c11u)">
<path d="M 814.7 255.8 C 849.7 232.8 882.7 178.8 947.7 178.8 C 1012.7 178.8 1045.7 232.8 1080.7 255.8 L 1080.7 282.8 L 814.7 282.8 Z M 871.7 255.8 C 897.7 236.8 917.7 223.8 947.7 223.8 C 977.7 223.8 997.7 236.8 1023.7 255.8 L 1023.7 282.8 L 871.7 282.8 Z" fill="#000" fill-opacity="0.6" fill-rule="evenodd" filter="url(#f8_8)"/>
<ellipse cx="947.7" cy="258.8" rx="46" ry="24" fill="#fff" fill-opacity="0.34" filter="url(#f10_10)"/>
</g>
<path d="M709.6 252.6H1185.8" stroke="#6e6e6e" stroke-width="1" fill="none"/>
<rect x="709.6" y="190.9" width="476.2" height="1" fill="#555"/>
<rect x="1184.9" y="190.9" width="0.9" height="123.8" fill="#666"/>
<text transform="translate(715.6,211.1) scale(1,1.065)" class="w" xml:space="preserve"><tspan class="i">t</tspan> = 1.6ms</text>
<text transform="translate(708.1,209.8) scale(1,1.065)" text-anchor="end" xml:space="preserve">0.4</text>
<text transform="translate(708.1,234.3) scale(1,1.065)" text-anchor="end" xml:space="preserve">0.2</text>
<text transform="translate(708.1,258.8) scale(1,1.065)" text-anchor="end" xml:space="preserve">0.0</text>
<text transform="translate(708.1,283.3) scale(1,1.065)" text-anchor="end" xml:space="preserve">-0.2</text>
<text transform="translate(708.1,307.8) scale(1,1.065)" text-anchor="end" xml:space="preserve">-0.4</text>
<text transform="translate(709.2,332.9) scale(1,1.065)" text-anchor="middle" xml:space="preserve">-10</text>
<text transform="translate(756.82,332.9) scale(1,1.065)" text-anchor="middle" xml:space="preserve">-8</text>
<text transform="translate(804.44,332.9) scale(1,1.065)" text-anchor="middle" xml:space="preserve">-6</text>
<text transform="translate(852.06,332.9) scale(1,1.065)" text-anchor="middle" xml:space="preserve">-4</text>
<text transform="translate(899.68,332.9) scale(1,1.065)" text-anchor="middle" xml:space="preserve">-2</text>
<text transform="translate(947.7,332.9) scale(1,1.065)" text-anchor="middle" xml:space="preserve">0</text>
<text transform="translate(995.32,332.9) scale(1,1.065)" text-anchor="middle" xml:space="preserve">2</text>
<text transform="translate(1042.94,332.9) scale(1,1.065)" text-anchor="middle" xml:space="preserve">4</text>
<text transform="translate(1090.56,332.9) scale(1,1.065)" text-anchor="middle" xml:space="preserve">6</text>
<text transform="translate(1138.18,332.9) scale(1,1.065)" text-anchor="middle" xml:space="preserve">8</text>
<text transform="translate(1186.4,332.9) scale(1,1.065)" text-anchor="middle" xml:space="preserve">10</text>
<text transform="translate(947.7,356.9) scale(1,1.065)" text-anchor="middle" xml:space="preserve"><tspan class="i">x</tspan> (m)</text>
<text transform="translate(663.6,253.3) rotate(-90) scale(1.045,1)" text-anchor="middle" xml:space="preserve"><tspan class="i">z</tspan> (m)</text>
<rect x="1199.2" y="196.8" width="8.7" height="139.3" fill="url(#cb)"/>
<path d="M1199.65 336.1V197.25H1207.45V336.1" fill="none" stroke="#2a2a2a" stroke-width="0.9"/>
<path d="M1207.9 210.6h5" stroke="#777" stroke-width="0.7" fill="none"/>
<text transform="translate(1217.5,218.1) scale(1,1.065)" xml:space="preserve">0.04</text>
<path d="M1207.9 238.46h5" stroke="#777" stroke-width="0.7" fill="none"/>
<text transform="translate(1217.5,245.96) scale(1,1.065)" xml:space="preserve">0.02</text>
<path d="M1207.9 266.32h5" stroke="#777" stroke-width="0.7" fill="none"/>
<text transform="translate(1217.5,273.82) scale(1,1.065)" xml:space="preserve">0.00</text>
<path d="M1207.9 294.18h5" stroke="#777" stroke-width="0.7" fill="none"/>
<text transform="translate(1217.5,301.68) scale(1,1.065)" xml:space="preserve">-0.02</text>
<path d="M1207.9 322.04h5" stroke="#777" stroke-width="0.7" fill="none"/>
<text transform="translate(1217.5,329.54) scale(1,1.065)" xml:space="preserve">-0.04</text>
<text transform="translate(1191.9,188) scale(1,1.065)" xml:space="preserve"><tspan class="i">v</tspan><tspan class="sub" dy="6">z</tspan><tspan dy="-6"> (m/s)</tspan></text>
<!-- panel b row 3 -->
<rect x="709.6" y="363.1" width="476.2" height="123.4" fill="#808080"/>
<g clip-path="url(#c12l)">
<rect x="917.7" y="412.8" width="60" height="87" fill="url(#g27)" filter="url(#f18_1)"/>
<rect x="732.7" y="412.8" width="32" height="87" fill="url(#g28)" filter="url(#f12_1)"/>
<rect x="1130.7" y="412.8" width="32" height="87" fill="url(#g29)" filter="url(#f12_1)"/>
<rect x="791.7" y="412.8" width="52" height="87" fill="url(#g30)" filter="url(#f16_1)"/>
<rect x="1051.7" y="412.8" width="52" height="87" fill="url(#g31)" filter="url(#f16_1)"/>
</g>
<g clip-path="url(#c12u)">
<path d="M 735.7 429.8 Q 787.7 379.8 857.7 342.8 L 1037.7 342.8 Q 1107.7 379.8 1159.7 429.8 L 1159.7 454.8 L 735.7 454.8 Z M 787.7 429.8 Q 832.7 384.8 899.7 342.8 L 995.7 342.8 Q 1062.7 384.8 1107.7 429.8 L 1107.7 454.8 L 787.7 454.8 Z" fill="#000" fill-opacity="0.26" fill-rule="evenodd" filter="url(#f10_10)"/>
<ellipse cx="769.7" cy="416.8" rx="14" ry="12" fill="#000" fill-opacity="0.12" filter="url(#f7_7)"/>
<ellipse cx="1123.7" cy="416.8" rx="14" ry="12" fill="#000" fill-opacity="0.16" filter="url(#f7_7)"/>
<ellipse cx="947.7" cy="432.8" rx="125" ry="58" fill="#fff" fill-opacity="0.34" filter="url(#f16_16)"/>
</g>
<path d="M709.6 424.6H1185.8" stroke="#222" stroke-width="1" fill="none"/>
<rect x="1184.9" y="363.1" width="0.9" height="123.4" fill="#666"/>
<text transform="translate(715.6,383.3) scale(1,1.065)" class="w" xml:space="preserve"><tspan class="i">t</tspan> = 2.4ms</text>
<text transform="translate(708.1,381.8) scale(1,1.065)" text-anchor="end" xml:space="preserve">0.4</text>
<text transform="translate(708.1,406.3) scale(1,1.065)" text-anchor="end" xml:space="preserve">0.2</text>
<text transform="translate(708.1,430.8) scale(1,1.065)" text-anchor="end" xml:space="preserve">0.0</text>
<text transform="translate(708.1,455.3) scale(1,1.065)" text-anchor="end" xml:space="preserve">-0.2</text>
<text transform="translate(708.1,479.8) scale(1,1.065)" text-anchor="end" xml:space="preserve">-0.4</text>
<text transform="translate(709.2,504.1) scale(1,1.065)" text-anchor="middle" xml:space="preserve">-10</text>
<text transform="translate(756.82,504.1) scale(1,1.065)" text-anchor="middle" xml:space="preserve">-8</text>
<text transform="translate(804.44,504.1) scale(1,1.065)" text-anchor="middle" xml:space="preserve">-6</text>
<text transform="translate(852.06,504.1) scale(1,1.065)" text-anchor="middle" xml:space="preserve">-4</text>
<text transform="translate(899.68,504.1) scale(1,1.065)" text-anchor="middle" xml:space="preserve">-2</text>
<text transform="translate(947.7,504.1) scale(1,1.065)" text-anchor="middle" xml:space="preserve">0</text>
<text transform="translate(995.32,504.1) scale(1,1.065)" text-anchor="middle" xml:space="preserve">2</text>
<text transform="translate(1042.94,504.1) scale(1,1.065)" text-anchor="middle" xml:space="preserve">4</text>
<text transform="translate(1090.56,504.1) scale(1,1.065)" text-anchor="middle" xml:space="preserve">6</text>
<text transform="translate(1138.18,504.1) scale(1,1.065)" text-anchor="middle" xml:space="preserve">8</text>
<text transform="translate(1186.4,504.1) scale(1,1.065)" text-anchor="middle" xml:space="preserve">10</text>
<text transform="translate(947.7,528.5) scale(1,1.065)" text-anchor="middle" xml:space="preserve"><tspan class="i">x</tspan> (m)</text>
<text transform="translate(663.6,425.3) rotate(-90) scale(1.045,1)" text-anchor="middle" xml:space="preserve"><tspan class="i">z</tspan> (m)</text>
<rect x="1199.2" y="369" width="8.7" height="139.3" fill="url(#cb)"/>
<path d="M1199.65 508.3V369.45H1207.45V507.85Z" fill="none" stroke="#2a2a2a" stroke-width="0.9"/>
<path d="M1207.9 383.2h5" stroke="#777" stroke-width="0.7" fill="none"/>
<text transform="translate(1217.5,390.7) scale(1,1.065)" xml:space="preserve">0.04</text>
<path d="M1207.9 411.06h5" stroke="#777" stroke-width="0.7" fill="none"/>
<text transform="translate(1217.5,418.56) scale(1,1.065)" xml:space="preserve">0.02</text>
<path d="M1207.9 438.92h5" stroke="#777" stroke-width="0.7" fill="none"/>
<text transform="translate(1217.5,446.42) scale(1,1.065)" xml:space="preserve">0.00</text>
<path d="M1207.9 466.78h5" stroke="#777" stroke-width="0.7" fill="none"/>
<text transform="translate(1217.5,474.28) scale(1,1.065)" xml:space="preserve">-0.02</text>
<path d="M1207.9 494.64h5" stroke="#777" stroke-width="0.7" fill="none"/>
<text transform="translate(1217.5,502.14) scale(1,1.065)" xml:space="preserve">-0.04</text>
<text transform="translate(1191.9,360.9) scale(1,1.065)" xml:space="preserve"><tspan class="i">v</tspan><tspan class="sub" dy="6">z</tspan><tspan dy="-6"> (m/s)</tspan></text>
<!-- panel b row 4 -->
<rect x="709.6" y="534" width="476.2" height="123.6" fill="#808080"/>
<g clip-path="url(#c13l)">
<rect x="727.7" y="583.8" width="44" height="87" fill="url(#g32)" filter="url(#f14_1)"/>
<rect x="1123.7" y="583.8" width="44" height="87" fill="url(#g33)" filter="url(#f14_1)"/>
<rect x="887.7" y="583.8" width="120" height="87" fill="url(#g34)" filter="url(#f22_1)"/>
</g>
<g clip-path="url(#c13u)">
<path d="M 691.7 601.8 A 256 100 0 0 1 797.7 520.8" fill="none" stroke="#000" stroke-opacity="0.26" stroke-width="34" stroke-linecap="round" filter="url(#f12_12)"/>
<path d="M 1203.7 601.8 A 256 100 0 0 0 1097.7 520.8" fill="none" stroke="#000" stroke-opacity="0.34" stroke-width="34" stroke-linecap="round" filter="url(#f12_12)"/>
<ellipse cx="947.7" cy="603.8" rx="180" ry="64" fill="#fff" fill-opacity="0.24" filter="url(#f18_18)"/>
</g>
<path d="M709.6 595.6H1185.8" stroke="#6e6e6e" stroke-width="1" fill="none"/>
<rect x="709.6" y="534" width="476.2" height="1" fill="#555"/>
<rect x="1184.9" y="534" width="0.9" height="123.6" fill="#666"/>
<text transform="translate(715.6,554.2) scale(1,1.065)" class="w" xml:space="preserve"><tspan class="i">t</tspan> = 3.2ms</text>
<text transform="translate(708.1,552.8) scale(1,1.065)" text-anchor="end" xml:space="preserve">0.4</text>
<text transform="translate(708.1,577.3) scale(1,1.065)" text-anchor="end" xml:space="preserve">0.2</text>
<text transform="translate(708.1,601.8) scale(1,1.065)" text-anchor="end" xml:space="preserve">0.0</text>
<text transform="translate(708.1,626.3) scale(1,1.065)" text-anchor="end" xml:space="preserve">-0.2</text>
<text transform="translate(708.1,650.8) scale(1,1.065)" text-anchor="end" xml:space="preserve">-0.4</text>
<text transform="translate(709.2,676) scale(1,1.065)" text-anchor="middle" xml:space="preserve">-10</text>
<text transform="translate(756.82,676) scale(1,1.065)" text-anchor="middle" xml:space="preserve">-8</text>
<text transform="translate(804.44,676) scale(1,1.065)" text-anchor="middle" xml:space="preserve">-6</text>
<text transform="translate(852.06,676) scale(1,1.065)" text-anchor="middle" xml:space="preserve">-4</text>
<text transform="translate(899.68,676) scale(1,1.065)" text-anchor="middle" xml:space="preserve">-2</text>
<text transform="translate(947.7,676) scale(1,1.065)" text-anchor="middle" xml:space="preserve">0</text>
<text transform="translate(995.32,676) scale(1,1.065)" text-anchor="middle" xml:space="preserve">2</text>
<text transform="translate(1042.94,676) scale(1,1.065)" text-anchor="middle" xml:space="preserve">4</text>
<text transform="translate(1090.56,676) scale(1,1.065)" text-anchor="middle" xml:space="preserve">6</text>
<text transform="translate(1138.18,676) scale(1,1.065)" text-anchor="middle" xml:space="preserve">8</text>
<text transform="translate(1186.4,676) scale(1,1.065)" text-anchor="middle" xml:space="preserve">10</text>
<text transform="translate(947.7,702.8) scale(1,1.065)" text-anchor="middle" xml:space="preserve"><tspan class="i">x</tspan> (m)</text>
<text transform="translate(663.6,596.3) rotate(-90) scale(1.045,1)" text-anchor="middle" xml:space="preserve"><tspan class="i">z</tspan> (m)</text>
<rect x="1199.2" y="541" width="8.7" height="139.3" fill="url(#cb)"/>
<path d="M1199.65 680.3V541.45H1207.45V680.3" fill="none" stroke="#2a2a2a" stroke-width="0.9"/>
<path d="M1207.9 554.4h5" stroke="#777" stroke-width="0.7" fill="none"/>
<text transform="translate(1217.5,561.9) scale(1,1.065)" xml:space="preserve">0.04</text>
<path d="M1207.9 582.26h5" stroke="#777" stroke-width="0.7" fill="none"/>
<text transform="translate(1217.5,589.76) scale(1,1.065)" xml:space="preserve">0.02</text>
<path d="M1207.9 610.12h5" stroke="#777" stroke-width="0.7" fill="none"/>
<text transform="translate(1217.5,617.62) scale(1,1.065)" xml:space="preserve">0.00</text>
<path d="M1207.9 637.98h5" stroke="#777" stroke-width="0.7" fill="none"/>
<text transform="translate(1217.5,645.48) scale(1,1.065)" xml:space="preserve">-0.02</text>
<path d="M1207.9 665.84h5" stroke="#777" stroke-width="0.7" fill="none"/>
<text transform="translate(1217.5,673.34) scale(1,1.065)" xml:space="preserve">-0.04</text>
<text transform="translate(1191.9,532.5) scale(1,1.065)" xml:space="preserve"><tspan class="i">v</tspan><tspan class="sub" dy="6">z</tspan><tspan dy="-6"> (m/s)</tspan></text>
<text transform="translate(3.3,24.7) scale(1,1.065)" xml:space="preserve">(a)</text>
<text transform="translate(642,24.7) scale(1,1.065)" xml:space="preserve">(b)</text>
</svg>
</body></html>
